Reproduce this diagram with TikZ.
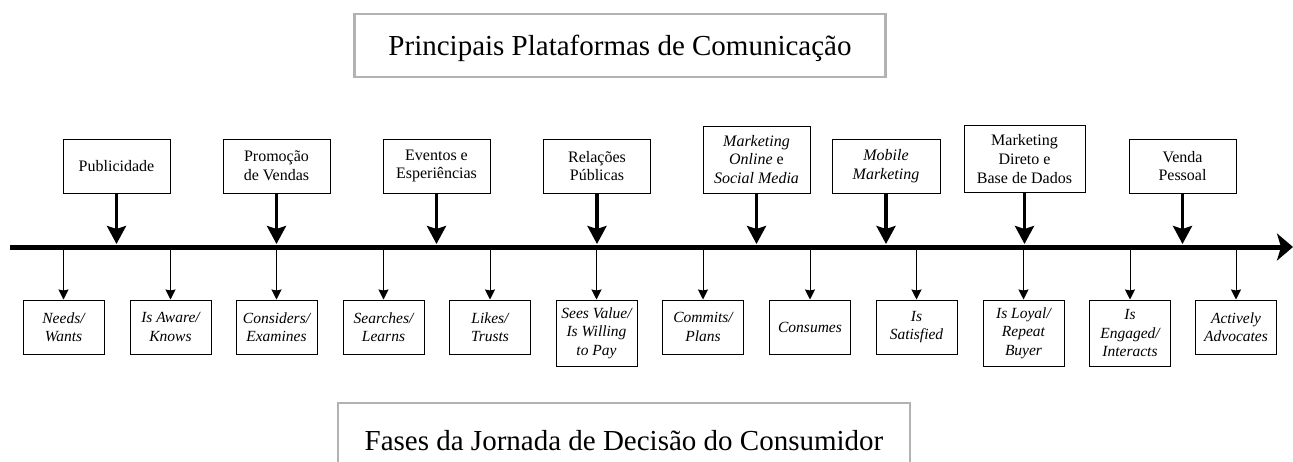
\documentclass[tikz,border=0pt]{standalone}
\usepackage{fontspec}
\setmainfont{Liberation Serif}
\usetikzlibrary{arrows.meta}
\begin{document}
\begin{tikzpicture}[x=1pt, y=-1pt,
	title/.style={draw=black!30, line width=2.5pt, minimum height=63pt, text depth=0pt, font=\fontsize{29}{33}\selectfont},
	platform/.style={draw, line width=1pt, minimum width=107pt, minimum height=54pt, align=center, font=\fontsize{16}{18.7}\selectfont},
	phase/.style={draw, line width=1pt, minimum width=81pt, minimum height=54pt, align=center, font=\fontsize{15.5}{18.5}\selectfont\itshape},
	thick arrow/.style={line width=3.5pt, -{Stealth[length=18pt, width=19pt, inset=3pt]}},
	thin arrow/.style={line width=1pt, -{Stealth[length=10pt, width=10pt, inset=1pt]}}]
	\useasboundingbox (0, 0) rectangle (1293, 461);
	\node[title, minimum width=531pt] (top) at (620, 45.5) {Principais Plataformas de Comunicação};
	\node[title, minimum width=572pt, minimum height=74pt] (bottom) at (624, 440) {Fases da Jornada de Decisão do Consumidor};
	\coordinate (start) at (10, 247);
	\coordinate (end) at (1293, 247);
	\draw[line width=5pt, -{Stealth[length=16pt, width=27pt, inset=4pt]}] (start) -- (end);
	\node[platform] (pub) at (116.5, 166) {Publicidade};
	\node[platform] (promo) at (276.5, 166) {Promoção\\de Vendas};
	\node[platform] (events) at (436.5, 166) {Eventos e\\Esperiências};
	\node[platform] (pr) at (597, 166) {Relações\\Públicas};
	\node[platform, minimum height=67pt] (online) at (756.5, 159.5) {\textit{Marketing}\\\textit{Online} e\\\textit{Social Media}};
	\node[platform, minimum width=108pt] (mobile) at (886, 166) {\textit{Mobile}\\\textit{Marketing}};
	\node[platform, minimum width=121pt, minimum height=67pt] (direct) at (1024.5, 159) {Marketing\\Direto e\\Base de Dados};
	\node[platform] (sales) at (1182.5, 166) {Venda\\Pessoal};
	\draw[thick arrow, shorten >=3pt] (pub) -- (pub |- start);
	\draw[thick arrow, shorten >=3pt] (promo) -- (promo |- start);
	\draw[thick arrow, shorten >=3pt] (events) -- (events |- start);
	\draw[thick arrow, shorten >=3pt] (pr) -- (pr |- start);
	\draw[thick arrow, shorten >=3pt] (online) -- (online |- start);
	\draw[thick arrow, shorten >=3pt] (mobile) -- (mobile |- start);
	\draw[thick arrow, shorten >=3pt] (direct) -- (direct |- start);
	\draw[thick arrow, shorten >=3pt] (sales) -- (sales |- start);
	\node[phase] (needs) at (63.5, 327) {Needs/\\Wants};
	\node[phase] (aware) at (170.5, 327) {Is Aware/\\Knows};
	\node[phase] (considers) at (276.5, 327) {Considers/\\Examines};
	\node[phase] (searches) at (383.5, 327) {Searches/\\Learns};
	\node[phase] (likes) at (490, 327) {Likes/\\Trusts};
	\node[phase, minimum height=66pt] (value) at (596.5, 333) {Sees Value/\\Is Willing\\to Pay};
	\node[phase] (commits) at (703, 327) {Commits/\\Plans};
	\node[phase] (consumes) at (810, 327) {Consumes};
	\node[phase] (satisfied) at (916.5, 327) {Is\\Satisfied};
	\node[phase, minimum height=66pt] (loyal) at (1023.5, 333) {Is Loyal/\\Repeat\\Buyer};
	\node[phase, minimum height=66pt] (engaged) at (1130, 333) {Is\\Engaged/\\Interacts};
	\node[phase] (advocates) at (1236, 327) {Actively\\Advocates};
	\draw[thin arrow] (needs |- start) -- (needs);
	\draw[thin arrow] (aware |- start) -- (aware);
	\draw[thin arrow] (considers |- start) -- (considers);
	\draw[thin arrow] (searches |- start) -- (searches);
	\draw[thin arrow] (likes |- start) -- (likes);
	\draw[thin arrow] (value |- start) -- (value);
	\draw[thin arrow] (commits |- start) -- (commits);
	\draw[thin arrow] (consumes |- start) -- (consumes);
	\draw[thin arrow] (satisfied |- start) -- (satisfied);
	\draw[thin arrow] (loyal |- start) -- (loyal);
	\draw[thin arrow] (engaged |- start) -- (engaged);
	\draw[thin arrow] (advocates |- start) -- (advocates);
\end{tikzpicture}
\end{document}
